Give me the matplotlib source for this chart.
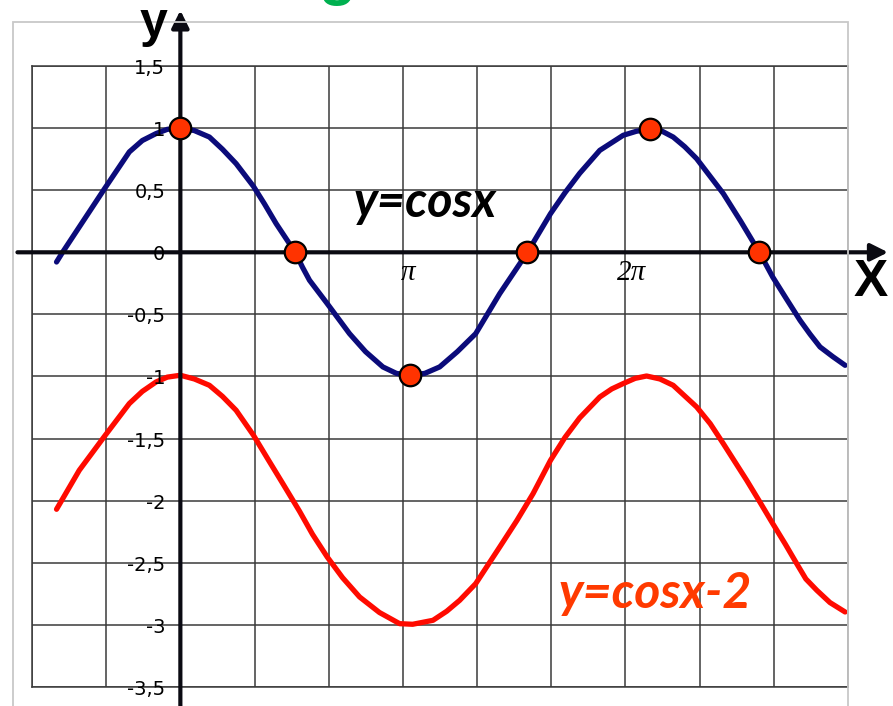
import numpy as np
import matplotlib
matplotlib.use("Agg")
import matplotlib.pyplot as plt
from matplotlib.patches import Rectangle

# ---------------- data (x in radians) ----------------
x_cos = [-1.748, -1.663, -1.060, -0.721, -0.537, -0.343, -0.184, 0.0, 0.198, 0.410,
         0.594, 0.787, 1.032, 1.187, 1.352, 1.621, 1.724, 1.823, 2.073, 2.388,
         2.614, 2.859, 3.050, 3.236, 3.450, 3.660, 3.910, 4.169, 4.508, 4.900,
         5.225, 5.430, 5.637, 5.921, 6.251, 6.440, 6.628, 6.800, 6.957, 7.120,
         7.288, 7.664, 7.910, 8.173, 8.362, 8.550, 8.748, 8.890, 9.030, 9.210,
         9.384]
y_cos = [-0.078, 0.0, 0.521, 0.808, 0.900, 0.956, 0.990, 1.0, 0.980, 0.928,
         0.830, 0.714, 0.531, 0.390, 0.231, 0.0, -0.120, -0.225, -0.413, -0.655,
         -0.800, -0.923, -0.975, -0.99, -0.975, -0.923, -0.800, -0.655, -0.333, 0.0,
         0.311, 0.480, 0.636, 0.821, 0.942, 0.975, 0.99, 0.975, 0.928, 0.850,
         0.754, 0.473, 0.250, 0.0, -0.199, -0.370, -0.548, -0.660, -0.762, -0.840,
         -0.910]

x_shift = [-1.748, -1.427, -1.060, -0.721, -0.537, -0.343, -0.184, 0.0, 0.198, 0.410,
           0.594, 0.787, 1.032, 1.230, 1.446, 1.682, 1.865, 2.073, 2.290, 2.530,
           2.810, 3.095, 3.279, 3.566, 3.760, 3.943, 4.169, 4.508, 4.750, 4.979,
           5.225, 5.430, 5.637, 5.921, 6.090, 6.251, 6.420, 6.581, 6.770, 6.957,
           7.288, 7.480, 7.664, 7.995, 8.180, 8.362, 8.540, 8.701, 8.830, 8.984,
           9.170, 9.384]
y_shift = [-2.069, -1.755, -1.473, -1.218, -1.120, -1.044, -1.005, -0.99, -1.020, -1.071,
           -1.160, -1.272, -1.473, -1.660, -1.862, -2.085, -2.270, -2.453, -2.620, -2.775,
           -2.900, -2.990, -2.995, -2.963, -2.890, -2.802, -2.668, -2.373, -2.160, -1.943,
           -1.675, -1.490, -1.333, -1.165, -1.100, -1.057, -1.015, -0.996, -1.020, -1.071,
           -1.245, -1.380, -1.540, -1.836, -2.010, -2.184, -2.350, -2.507, -2.630, -2.721,
           -2.820, -2.896]

marker_x = [0.0, 1.621, 3.236, 4.900, 6.628, 8.173]
marker_y = [1.0, 0.0, -0.99, 0.0, 0.99, 0.0]

ytick_values = [1.5, 1.0, 0.5, 0.0, -0.5, -1.0, -1.5, -2.0, -2.5, -3.0, -3.5]
ytick_labels = ["1,5", "1", "0,5", "0", "-0,5", "-1", "-1,5", "-2", "-2,5", "-3", "-3,5"]
xtick_values = [np.pi, 2 * np.pi]
xtick_labels = ["\u03c0", "2\u03c0"]
grid_steps_x = list(range(-2, 10))   # grid every pi/3

label_cos = "y=cosx"
label_shift = "y=cosx-2"

# ---------------- figure ----------------
W, H = 893, 706
fig = plt.figure(figsize=(W / 100, H / 100), dpi=100)

def fx(px):
    return px / W

def fy(py):
    return 1 - py / H

# light outer frame
fig.patches.append(Rectangle((fx(13), fy(706) - 0.01), fx(848) - fx(13), fy(22) - fy(706) + 0.01,
                             transform=fig.transFigure, fill=False, edgecolor="#c8c8c8", lw=1.3,
                             zorder=0))

ax = fig.add_axes([fx(32), fy(687), fx(848) - fx(32), fy(66) - fy(687)])
ax.set_xlim(-2 * np.pi / 3, 3 * np.pi)
ax.set_ylim(-3.5, 1.5)
ax.set_xticks([k * np.pi / 3 for k in grid_steps_x])
ax.set_yticks(ytick_values)
ax.tick_params(length=0, labelbottom=False, labelleft=False)
ax.grid(True, color="#3a3a3a", lw=1.1)
for s in ax.spines.values():
    s.set_color("#3a3a3a")
    s.set_linewidth(1.1)
ax.set_axisbelow(True)

# curves
ax.plot(x_cos, y_cos, color="#0b0b7a", lw=3.8, solid_capstyle="round",
        solid_joinstyle="round", zorder=3)
ax.plot(x_shift, y_shift, color="#ff0a00", lw=3.8, solid_capstyle="round",
        solid_joinstyle="round", zorder=3)

# coordinate axes with arrows
ax.annotate("", xy=(9.99, 0), xytext=(-2.30, 0), xycoords="data",
            arrowprops=dict(arrowstyle="-|>", lw=3, color="#0a0a12", mutation_scale=26,
                            shrinkA=0, shrinkB=0), annotation_clip=False, zorder=4)
ax.annotate("", xy=(0, 1.948), xytext=(0, -3.70), xycoords="data",
            arrowprops=dict(arrowstyle="-|>", lw=3, color="#0a0a12", mutation_scale=26,
                            shrinkA=0, shrinkB=0), annotation_clip=False, zorder=4)

# markers
ax.plot(marker_x, marker_y, "o", ms=15.5, mfc="#ff3300", mec="black", mew=1.6,
        zorder=6, clip_on=False)

# tick labels
for v, t in zip(ytick_values, ytick_labels):
    ax.text(-0.212, v - 0.02, t, ha="right", va="center", fontsize=14,
            family="DejaVu Sans", color="black", zorder=5, clip_on=False)
for v, t in zip(xtick_values, xtick_labels):
    ax.text(v + 0.08, -0.17, t, ha="center", va="center", fontsize=21,
            family="Liberation Serif", style="italic", color="black", zorder=5)

# axis names
fig.text(fx(153), fy(24), "y", ha="center", va="center", fontsize=36,
         family="Liberation Sans", weight="bold", color="black")
fig.text(fx(871), fy(283), "X", ha="center", va="center", fontsize=37,
         family="Liberation Sans", weight="bold", color="black")

# curve names
fig.text(fx(425), fy(202), label_cos, ha="center", va="center", fontsize=35,
         family="Lato", weight="bold", style="italic", color="black")
fig.text(fx(655), fy(593), label_shift, ha="center", va="center", fontsize=36,
         family="Lato", weight="bold", style="italic", color="#ff3a00")

# cut-off green title fragment at the top
fig.text(fx(337), fy(6), "g", ha="center", va="bottom", fontsize=44,
         family="Liberation Sans", weight="bold", color="#00b050")

fig.savefig("out.png", dpi=100)
